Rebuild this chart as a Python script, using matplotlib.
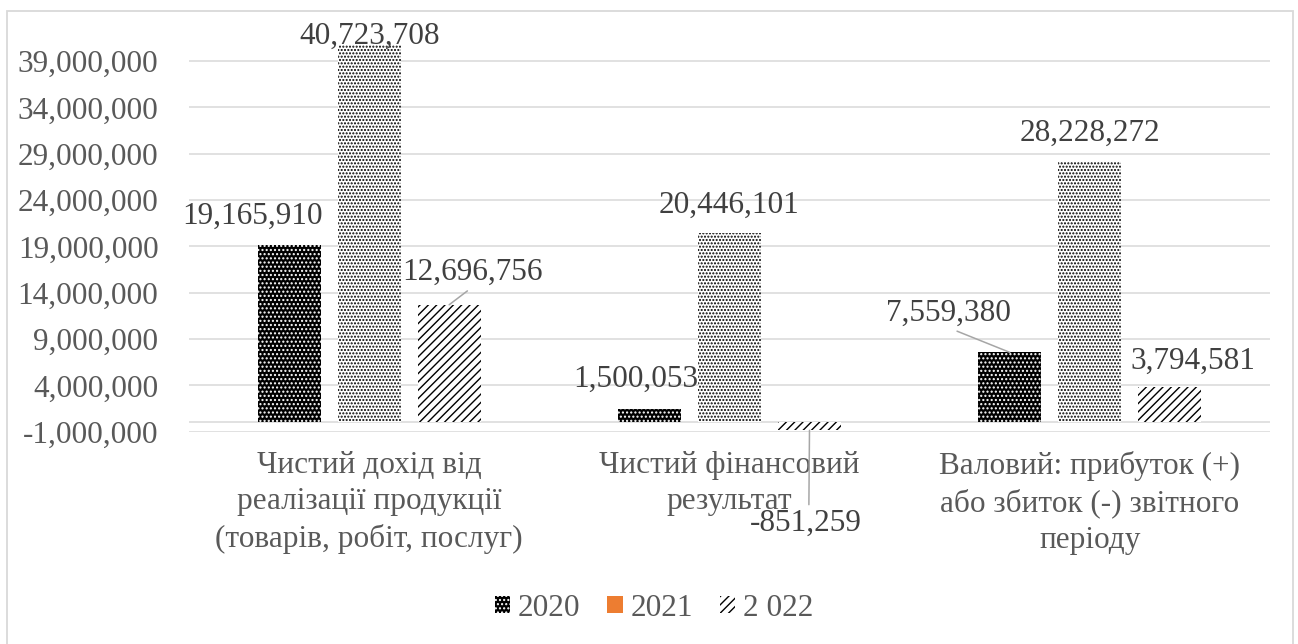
import numpy as np
import matplotlib
matplotlib.use("Agg")
import matplotlib.pyplot as plt
from matplotlib.patches import Patch, Rectangle

plt.rcParams['font.family'] = ['Liberation Serif', 'DejaVu Serif']
plt.rcParams['hatch.linewidth'] = 1.0

# ---------------- data ----------------
categories = [
    "Чистий дохід від\nреалізації продукції\n(товарів, робіт, послуг)",
    "Чистий фінансовий\nрезультат",
    "Валовий: прибуток (+)\nабо збиток (-) звітного\nперіоду",
]
series_names = ["2020", "2021", "2 022"]
v2020 = [19165910, 1500053, 7559380]
v2021 = [40723708, 20446101, 28228272]
v2022 = [12696756, -851259, 3794581]
yticks = list(range(-1000000, 40000000, 5000000))

# ---------------- style ----------------
W, H = 1298, 644
fig = plt.figure(figsize=(W / 100, H / 100), dpi=100)
ax_left, ax_right = 189, 1270
ax_top, ax_bottom = 15.6, 431.7
ax = fig.add_axes([ax_left / W, 1 - ax_bottom / H, (ax_right - ax_left) / W, (ax_bottom - ax_top) / H])

FS = 22.5
TICK_C = '#595959'
LBL_C = '#404040'
GRID_C = '#D9D9D9'

bar_w = 0.175
step = 0.222
x = np.arange(len(categories))
series = [v2020, v2021, v2022]
styles = [
    dict(facecolor='black', edgecolor='white', hatch='....', linewidth=0),
    dict(facecolor='white', edgecolor='black', hatch='.....', linewidth=0),
    dict(facecolor='white', edgecolor='black', hatch='////', linewidth=0),
]
bars = []
for i, (vals, st) in enumerate(zip(series, styles)):
    b = ax.bar(x + (i - 1) * step, vals, width=bar_w, zorder=3, **st)
    bars.append(b)

ax.set_xlim(-0.5, 2.5)
ax.set_ylim(-1000000, 43900000)
ax.set_yticks(yticks)
ax.set_yticklabels([f"{t:,}" for t in yticks])
ax.set_xticks(x)
ax.set_xticklabels(categories, linespacing=1.33)
ax.tick_params(axis='y', length=0, pad=22, labelsize=FS, labelcolor=TICK_C)
ax.tick_params(axis='x', length=0, pad=14, labelsize=FS, labelcolor=TICK_C)
for s in ax.spines.values():
    s.set_visible(False)
ax.grid(axis='y', color=GRID_C, linewidth=1.1, zorder=0)
ax.axhline(0, color=GRID_C, linewidth=1.1, zorder=1)
ax.set_axisbelow(True)

# data labels: (dx, dy) pixel offsets of label centre from bar end; leader flag
offsets = {
    (0, 0): (-37, 28, False), (1, 0): (0, 8.5, False), (2, 0): (23, 32, True),
    (0, 1): (-14, 29, False), (1, 1): (0, 27.5, False), (2, 1): (-4, -93, True),
    (0, 2): (-61, 39, True), (1, 2): (0, 28, False), (2, 2): (23, 26, False),
}
for i, vals in enumerate(series):
    for j, v in enumerate(vals):
        dx, dy, leader = offsets[(i, j)]
        xb = x[j] + (i - 1) * step
        kw = {}
        if leader:
            rel = (0.53, 1.0) if v < 0 else (0.5, 0.0)
            kw['arrowprops'] = dict(arrowstyle='-', color='#A6A6A6', lw=1.1,
                                    shrinkA=1, shrinkB=0, relpos=rel)
        ax.annotate(f"{v:,}", xy=(xb, v), xytext=(dx, dy), textcoords='offset pixels',
                    ha='center', va='center', fontsize=FS, color=LBL_C, zorder=5,
                    annotation_clip=False, **kw)

handles = [
    Patch(facecolor='black', edgecolor='white', hatch='....', linewidth=0, label=series_names[0]),
    Patch(facecolor='#ED7D31', edgecolor='#ED7D31', linewidth=0, label=series_names[1]),
    Patch(facecolor='white', edgecolor='black', hatch='////', linewidth=0, label=series_names[2]),
]
leg = fig.legend(handles=handles, loc='center', bbox_to_anchor=(654 / W, 1 - 608 / H),
                 ncol=3, frameon=False, fontsize=FS, handlelength=0.5, handleheight=0.5,
                 handletextpad=0.25, columnspacing=0.85, labelcolor=TICK_C)

fig.add_artist(Rectangle((7 / W, -0.05), (1293 - 7) / W, 1.05 - 11 / H, transform=fig.transFigure,
                         fill=False, edgecolor=GRID_C, linewidth=1.3))

fig.savefig("out.png", dpi=100)
